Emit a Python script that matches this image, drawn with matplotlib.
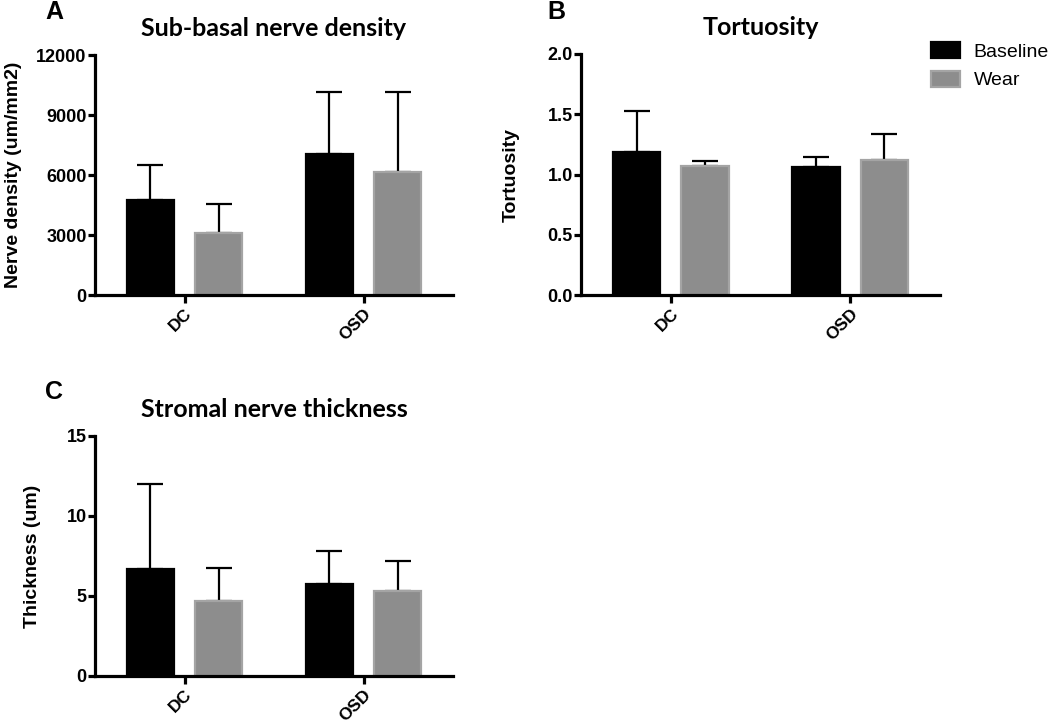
#!/usr/bin/env python3

import numpy as np
import matplotlib
matplotlib.use("Agg")
import matplotlib.pyplot as plt

groups = ["DC", "OSD"]
series = ["Baseline", "Wear"]

# sub-basal nerve density (um/mm2): mean and upper SD
density_mean = {"Baseline": [4750, 7050], "Wear": [3100, 6150]}
density_top = {"Baseline": [6500, 10150], "Wear": [4550, 10150]}

# tortuosity
tort_mean = {"Baseline": [1.19, 1.06], "Wear": [1.07, 1.12]}
tort_top = {"Baseline": [1.53, 1.145], "Wear": [1.108, 1.336]}

# stromal nerve thickness (um)
thick_mean = {"Baseline": [6.7, 5.75], "Wear": [4.7, 5.3]}
thick_top = {"Baseline": [12.0, 7.8], "Wear": [6.75, 7.2]}

fill = {"Baseline": "#000000", "Wear": "#8d8d8d"}
edge = {"Baseline": "#000000", "Wear": "#a4a4a4"}

plt.rcParams["font.family"] = ["Liberation Sans", "DejaVu Sans"]


def draw_panel(ax, means, tops, title, ylabel, yticks, ylim, fmt):
    x = np.arange(len(groups))
    width = 0.265
    offs = {"Baseline": -0.19, "Wear": 0.19}
    for s in series:
        m = np.array(means[s])
        t = np.array(tops[s])
        ax.bar(x + offs[s], m, width, color=fill[s], edgecolor=edge[s],
               linewidth=1.6, label=s, zorder=2)
        ax.errorbar(x + offs[s], m, yerr=[np.zeros_like(m), t - m], fmt="none",
                    ecolor="black", elinewidth=1.6, capsize=9.5, capthick=1.6,
                    zorder=1)
    ax.set_xlim(-0.5, 1.5)
    ax.set_ylim(*ylim)
    ax.set_yticks(yticks)
    ax.set_yticklabels([fmt.format(v) for v in yticks])
    ax.set_xticks(x)
    ax.set_xticklabels(groups, rotation=45, ha="right", va="top",
                       rotation_mode="anchor")
    for sp in ["top", "right"]:
        ax.spines[sp].set_visible(False)
    for sp in ["left", "bottom"]:
        ax.spines[sp].set_linewidth(2.3)
    ax.tick_params(axis="y", length=5, width=2.3, labelsize=13, pad=1)
    ax.tick_params(axis="x", length=6, width=2.3, labelsize=12.5, pad=2)
    for lab in ax.get_xticklabels() + ax.get_yticklabels():
        lab.set_fontweight("bold")
    ax.set_ylabel(ylabel, fontsize=14, fontweight="bold")
    ax.set_title(title, fontsize=18, fontweight="bold", family="Lato", pad=14)


fig = plt.figure(figsize=(10.5, 7.24), dpi=100)

axA = fig.add_axes([95 / 1050, 1 - 295 / 724, 358 / 1050, 240 / 724])
axB = fig.add_axes([581 / 1050, 1 - 295 / 724, 359 / 1050, 241 / 724])
axC = fig.add_axes([95 / 1050, 1 - 676 / 724, 358 / 1050, 240 / 724])

draw_panel(axA, density_mean, density_top, "Sub-basal nerve density",
           "Nerve density (um/mm2)", [0, 3000, 6000, 9000, 12000], (0, 12000), "{:.0f}")
draw_panel(axB, tort_mean, tort_top, "Tortuosity",
           "Tortuosity", [0, 0.5, 1.0, 1.5, 2.0], (0, 2.0), "{:.1f}")
draw_panel(axC, thick_mean, thick_top, "Stromal nerve thickness",
           "Thickness (um)", [0, 5, 10, 15], (0, 15), "{:.0f}")

axA.yaxis.set_label_coords(-0.205, 0.5)
axB.yaxis.set_label_coords(-0.17, 0.5)
axC.yaxis.set_label_coords(-0.15, 0.5)

handles, labels = axB.get_legend_handles_labels()
fig.legend(handles, labels, loc="upper left", bbox_to_anchor=(931 / 1050, 1 - 42 / 724),
           frameon=False, fontsize=14, handlelength=1.5, handleheight=0.9,
           handletextpad=0.7, labelspacing=0.5, borderpad=0, borderaxespad=0)

for letter, px, py in [("A", 45, 12), ("B", 547, 12), ("C", 45, 392)]:
    fig.text(px / 1050, 1 - py / 724, letter, fontsize=18, fontweight="bold",
             ha="left", va="center")

fig.savefig("out.png", dpi=100)
